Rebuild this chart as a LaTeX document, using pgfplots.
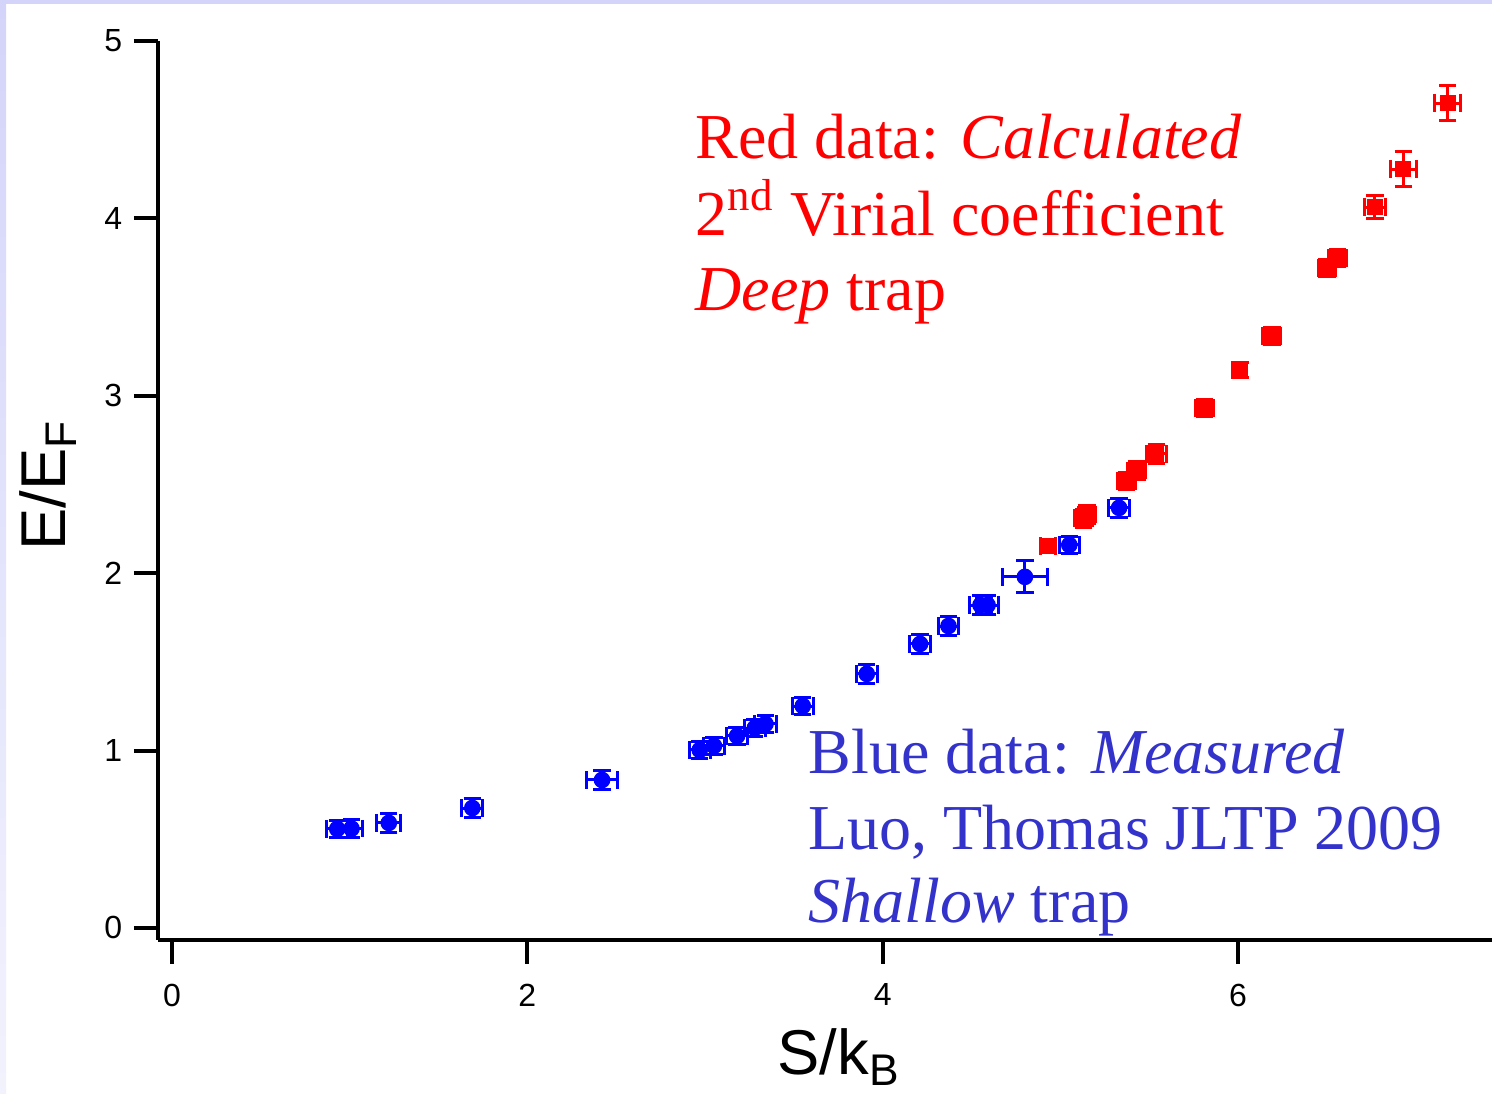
\documentclass[border=0pt]{standalone}
\usepackage{pgfplots}
\pgfplotsset{compat=1.18}
\usepackage{pgfplotstable}
\usepackage{fontspec}
\setmainfont{Liberation Sans}
\newfontfamily\tnr{Liberation Serif}
\definecolor{txtblue}{RGB}{51,51,204}
\definecolor{slide}{RGB}{212,212,250}

% x  y  x-error  y-error
\pgfplotstableread{
x    y     ex    ey
0.93 0.558 0.060 0.050
1.01 0.560 0.060 0.050
1.22 0.592 0.068 0.055
1.69 0.676 0.060 0.055
2.42 0.834 0.085 0.055
2.97 1.003 0.060 0.050
3.05 1.026 0.060 0.050
3.18 1.082 0.060 0.050
3.28 1.127 0.060 0.050
3.34 1.150 0.060 0.050
3.55 1.251 0.060 0.050
3.91 1.432 0.060 0.055
4.21 1.601 0.060 0.055
4.37 1.702 0.055 0.055
4.55 1.820 0.060 0.055
4.59 1.820 0.060 0.055
4.80 1.979 0.125 0.090
5.05 2.159 0.055 0.050
5.33 2.368 0.060 0.055
}\bluedata

\pgfplotstableread{
x    y     ex    ey
4.93 2.153 0.040 0.030
5.13 2.310 0.050 0.050
5.15 2.330 0.050 0.050
5.37 2.520 0.050 0.050
5.43 2.580 0.050 0.050
5.54 2.672 0.055 0.055
5.81 2.931 0.050 0.050
6.01 3.145 0.040 0.040
6.19 3.337 0.050 0.050
6.50 3.720 0.050 0.050
6.56 3.777 0.050 0.050
6.77 4.064 0.060 0.065
6.93 4.278 0.073 0.100
7.18 4.650 0.073 0.100
}\reddata

\begin{document}
\begin{tikzpicture}
\fill[white] (0,0) rectangle (447.6pt,328.2pt);
\shade[top color=slide, bottom color=slide!30] (0,0) rectangle (1.8pt,328.2pt);
\fill[slide] (0,327pt) rectangle (447.6pt,328.2pt);

\begin{axis}[
    at={(47.4pt,46.2pt)}, anchor=south west,
    scale only axis,
    width=400.2pt, height=269.7pt,
    xmin=-0.079, xmax=7.429,
    ymin=-0.068, ymax=5,
    axis lines=left,
    axis line style={-, line width=1.2pt},
    tick align=outside,
    major tick length=7.2pt,
    tick style={line width=1.2pt, black},
    xtick={0,2,4,6}, ytick={0,1,2,3,4,5},
    minor tick num=0,
    tick label style={font=\fontsize{9.6pt}{11pt}\selectfont},
    xticklabel style={yshift=-2.4pt},
    /pgf/number format/assume math mode=true,
    label style={font=\fontsize{19pt}{22pt}\selectfont},
    xlabel={S/k\textsubscript{B}},
    ylabel={E/E\textsubscript{F}},
    xlabel style={at={(axis description cs:0.5105,-0.150)}, anchor=base},
    ylabel style={at={(axis description cs:-0.069,0.506)}, anchor=base},
    clip=false,
]
\addplot[only marks, mark=*, color=blue, mark size=2.3pt,
    error bars/.cd, x dir=both, x explicit, y dir=both, y explicit,
    error mark=|,
    error bar style={line width=0.9pt},
    error mark options={line width=0.9pt, mark size=2.6pt}]
    table[x=x, y=y, x error=ex, y error=ey] {\bluedata};
\addplot[only marks, mark=square*, color=red, mark size=2.2pt,
    error bars/.cd, x dir=both, x explicit, y dir=both, y explicit,
    error mark=|,
    error bar style={line width=0.9pt},
    error mark options={line width=0.9pt, mark size=2.6pt}]
    table[x=x, y=y, x error=ex, y error=ey] {\reddata};
\end{axis}

\begin{scope}[every node/.style={anchor=base west, inner sep=0pt, font=\tnr\fontsize{19.2pt}{23pt}\selectfont}]
\node[text=red] at (208.5pt,280.5pt) {Red data: {\itshape Calculated}};
\node[text=red] at (208.5pt,257.4pt) {2\textsuperscript{nd} Virial coefficient};
\node[text=red] at (208.5pt,234.9pt) {{\itshape Deep} trap};
\node[text=txtblue] at (242.4pt,96pt) {Blue data: {\itshape Measured}};
\node[text=txtblue] at (242.4pt,73.2pt) {Luo, Thomas JLTP 2009};
\node[text=txtblue] at (242.4pt,51.3pt) {{\itshape Shallow} trap};
\end{scope}

\pgfresetboundingbox
\path[use as bounding box] (0,0) rectangle (447.6pt,328.2pt);
\end{tikzpicture}
\end{document}
